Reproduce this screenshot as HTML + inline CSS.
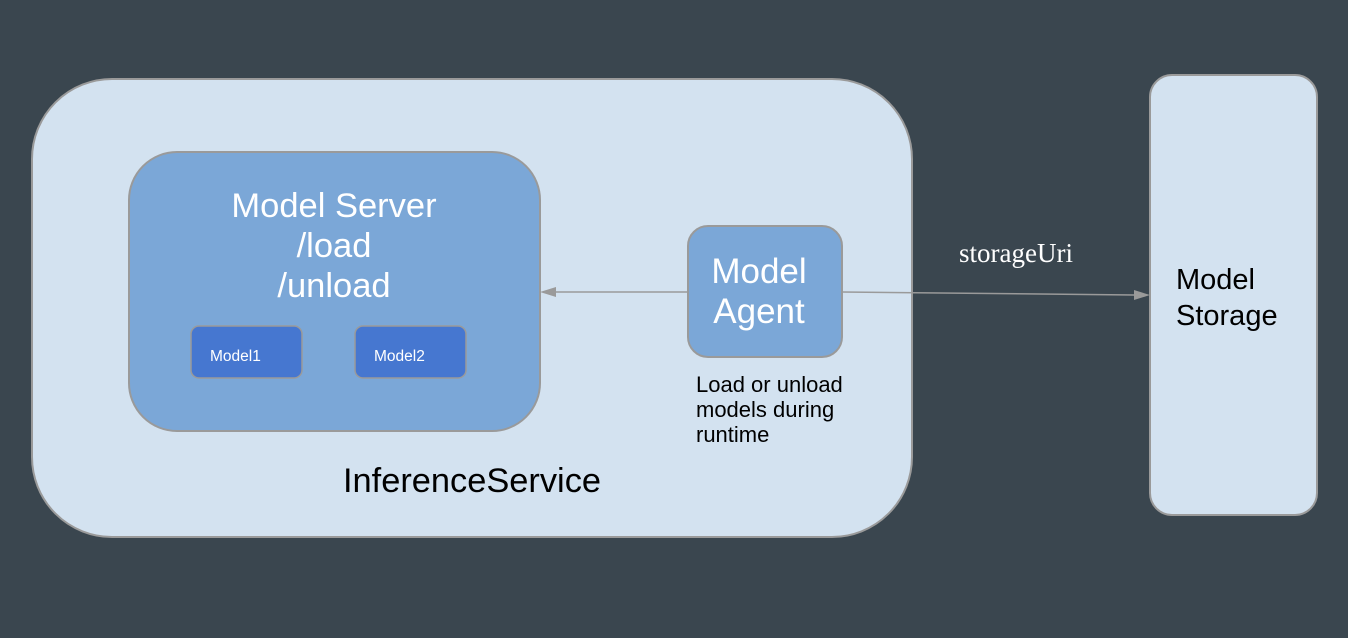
<!DOCTYPE html>
<html><head><style>
html,body{margin:0;padding:0;background:#3a464f;}
svg{display:block}
text{font-family:"Liberation Sans",sans-serif;}
</style></head><body>
<svg width="1348" height="638" viewBox="0 0 1348 638">
<rect width="1348" height="638" fill="#3a464f"/>
<rect x="32" y="79" width="880" height="458" rx="80" fill="#d3e2f0" stroke="#9a9a9a" stroke-width="2"/>
<rect x="129" y="152" width="411" height="279" rx="48" fill="#7ba7d7" stroke="#9a9a9a" stroke-width="2"/>
<rect x="191" y="326" width="111" height="52" rx="8" fill="#4677d0" stroke="#9a9a9a" stroke-width="1.5"/>
<rect x="355" y="326" width="111" height="52" rx="8" fill="#4677d0" stroke="#9a9a9a" stroke-width="1.5"/>
<rect x="688" y="226" width="154" height="131" rx="20" fill="#7ba7d7" stroke="#9a9a9a" stroke-width="2"/>
<rect x="1150" y="75" width="167" height="440" rx="22" fill="#d3e2f0" stroke="#9a9a9a" stroke-width="2"/>
<line x1="688" y1="292" x2="556" y2="292" stroke="#9a9a9a" stroke-width="1.5"/>
<polygon points="540,292 556,287 556,297" fill="#9a9a9a"/>
<line x1="842" y1="292" x2="1134" y2="295" stroke="#9a9a9a" stroke-width="1.5"/>
<polygon points="1150,295 1134,290 1134,300" fill="#9a9a9a"/>
<g fill="#fff" font-size="34.5" text-anchor="middle">
<text x="334" y="217">Model Server</text>
<text x="334" y="257">/load</text>
<text x="334" y="297">/unload</text>
</g>
<g fill="#fff" font-size="35" text-anchor="middle">
<text x="759" y="283">Model</text>
<text x="759" y="323">Agent</text>
</g>
<g fill="#fff" font-size="15.5">
<text x="210" y="361">Model1</text>
<text x="374" y="361">Model2</text>
</g>
<text x="1016" y="262" fill="#fff" font-size="27" text-anchor="middle" style="font-family:'Liberation Serif',serif">storageUri</text>
<g fill="#000" font-size="22">
<text x="696" y="392">Load or unload</text>
<text x="696" y="417">models during</text>
<text x="696" y="442">runtime</text>
</g>
<g fill="#000" font-size="29">
<text x="1176" y="289">Model</text>
<text x="1176" y="325">Storage</text>
</g>
<text x="472" y="492" fill="#000" font-size="34.4" text-anchor="middle">InferenceService</text>
</svg>
</body></html>
